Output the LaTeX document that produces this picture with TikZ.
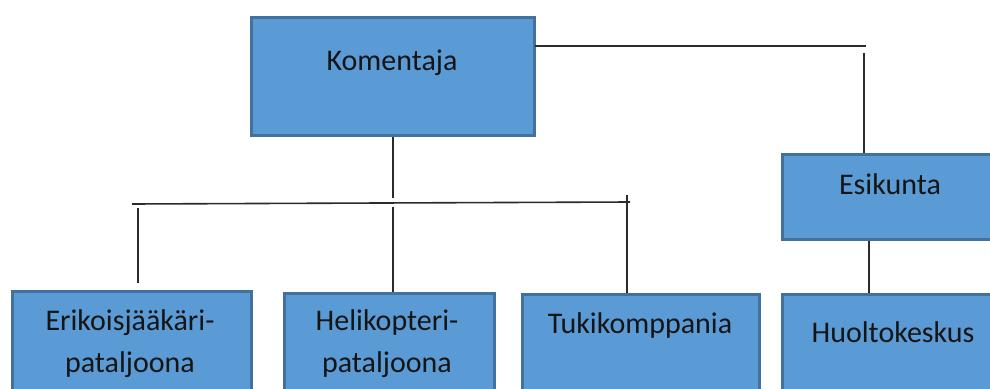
\documentclass[tikz,border=0pt]{standalone}
\usepackage{fontspec}
\setmainfont{Carlito}
\definecolor{boxfill}{HTML}{5B9BD5}
\definecolor{boxborder}{HTML}{41719C}
\definecolor{linecol}{HTML}{2B2B2B}
\definecolor{txtcol}{HTML}{151515}
\begin{document}
\begin{tikzpicture}[x=1pt,y=-1pt,
  orgbox/.style={rectangle, draw=boxborder, line width=2.6pt, fill=boxfill, inner sep=0pt, anchor=north west},
  lbl/.style={text=txtcol, font=\fontsize{30}{42}\selectfont, align=center, inner sep=0pt},
  conn/.style={draw=linecol, line width=1.6pt}]
\useasboundingbox (0,0) rectangle (990,388);
\fill[white] (0,0) rectangle (990,388);
% boxes
\node[orgbox, minimum width=283pt, minimum height=118pt] (kom) at (250,16) {};
\node[orgbox, minimum width=230pt, minimum height=85pt] (esi) at (781,153) {};
\node[orgbox, minimum width=239pt, minimum height=130pt] (eri) at (11,290) {};
\node[orgbox, minimum width=210pt, minimum height=130pt] (hel) at (283,292) {};
\node[orgbox, minimum width=237pt, minimum height=130pt] (tuki) at (521,293) {};
\node[orgbox, minimum width=230pt, minimum height=130pt] (huol) at (781,293) {};
% labels
\node[lbl] (tkom) at (392,63) {Komentaja};
\node[lbl] (tesi) at (890,184) {Esikunta};
\node[lbl] (teri) at (130,344) {Erikoisjääkäri-\\pataljoona};
\node[lbl] (thel) at (387,344) {Helikopteri-\\pataljoona};
\node[lbl] (ttuki) at (640,325) {Tukikomppania};
\node[lbl] (thuol) at (893,332) {Huoltokeskus};
% connector points
\coordinate (kr1) at (535,46);
\coordinate (kr2) at (866,46);
\coordinate (et) at (864,53);
\coordinate (kd) at (393,198);
\coordinate (busl) at (132,204);
\coordinate (busr) at (630,202);
\coordinate (erit) at (138,208);
\coordinate (erib) at (138,283);
\coordinate (helt) at (393,207);
\coordinate (tukt) at (627,195);
\coordinate (hut) at (869,238);
% connectors
\draw[conn] (kr1) -- (kr2);
\draw[conn] (et) -- (et |- esi.north);
\draw[conn] (kom.south -| kd) -- (kd);
\draw[conn] (busl) -- (busr);
\draw[conn] (erit) -- (erib);
\draw[conn] (helt) -- (helt |- hel.north);
\draw[conn] (tukt) -- (tukt |- tuki.north);
\draw[conn] (hut |- esi.south) -- (hut |- huol.north);
\end{tikzpicture}
\end{document}
